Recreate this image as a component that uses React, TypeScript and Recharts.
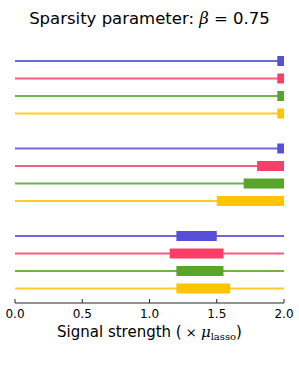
import React from 'react';
import { ComposedChart, Bar, XAxis, YAxis, Cell, Label } from 'recharts';

// one colour per method, repeated in every group
const colors = ['#574fd6', '#f93e6a', '#58a52c', '#ffc400'];

// interval of the thick segment, per group (rows top to bottom)
const groupStarts = [
  [1.95, 1.95, 1.95, 1.95],
  [1.95, 1.8, 1.7, 1.5],
  [1.2, 1.15, 1.2, 1.2],
];
const groupEnds = [
  [2.0, 2.0, 2.0, 2.0],
  [2.0, 2.0, 2.0, 2.0],
  [1.5, 1.55, 1.55, 1.6],
];

const xTicks = [0, 0.5, 1.0, 1.5, 2.0];
const xDomain: [number, number] = [0, 2];

interface Row {
  row: string;
  full: [number, number] | null;
  range: [number, number] | null;
  color: string;
}

const data: Row[] = [];
groupStarts.forEach((starts, g) => {
  starts.forEach((s, i) => {
    data.push({ row: `g${g}-${i}`, full: xDomain, range: [s, groupEnds[g][i]], color: colors[i] });
  });
  if (g < groupStarts.length - 1) {
    data.push({ row: `gap${g}`, full: null, range: null, color: 'none' });
  }
});

const TickMark = (props: any) => {
  const { x, y, payload } = props;
  return (
    <g>
      <line x1={x} x2={x} y1={y - 4} y2={y} stroke="#262626" strokeWidth={1} />
      <text x={x} y={y + 15} textAnchor="middle" fontSize={12} fill="#000" fontFamily="DejaVu Sans">
        {Number(payload.value).toFixed(1)}
      </text>
    </g>
  );
};

const XTitle = (props: any) => {
  const { viewBox } = props;
  const cx = viewBox.x + viewBox.width / 2;
  return (
    <text x={cx} y={viewBox.y + 34} textAnchor="middle" fontSize={15} fill="#000" fontFamily="DejaVu Sans">
      Signal strength (
      <tspan fontFamily="DejaVu Serif" fontSize={13}> × </tspan>
      <tspan fontFamily="DejaVu Serif" fontStyle="italic">μ</tspan>
      <tspan fontFamily="DejaVu Serif" fontSize={10} dy={3}>lasso</tspan>
      <tspan dy={-3}>)</tspan>
    </text>
  );
};

export default function App() {
  return (
    <div style={{ position: 'fixed', left: 0, top: 0, width: 299, height: 374, background: '#fff' }}>
      <div
        style={{
          position: 'absolute',
          top: 8,
          left: 0,
          width: 299,
          textAlign: 'center',
          fontFamily: 'DejaVu Sans',
          fontSize: 16.5,
          color: '#000',
          lineHeight: '22px',
        }}
      >
        Sparsity parameter: <span style={{ fontFamily: 'DejaVu Serif', fontStyle: 'italic' }}>β</span> = 0.75
      </div>
      <ComposedChart
        width={299}
        height={374}
        data={data}
        layout="vertical"
        margin={{ top: 52, right: 15, left: 15, bottom: 41 }}
      >
        <XAxis
          type="number"
          domain={xDomain}
          ticks={xTicks}
          allowDataOverflow
          tickSize={0}
          tickMargin={0}
          tick={<TickMark />}
          axisLine={{ stroke: '#262626', strokeWidth: 1 }}
          height={30}
        >
          <Label content={<XTitle />} />
        </XAxis>
        <YAxis yAxisId="line" type="category" dataKey="row" hide padding={{ top: 0, bottom: 6 }} />
        <YAxis yAxisId="bar" type="category" dataKey="row" hide padding={{ top: 0, bottom: 6 }} />
        <Bar yAxisId="line" dataKey="full" barSize={2} isAnimationActive={false}>
          {data.map((d, i) => (
            <Cell key={`l-${i}`} fill={d.color} fillOpacity={0.85} />
          ))}
        </Bar>
        <Bar yAxisId="bar" dataKey="range" barSize={10} isAnimationActive={false}>
          {data.map((d, i) => (
            <Cell key={`b-${i}`} fill={d.color} />
          ))}
        </Bar>
      </ComposedChart>
    </div>
  );
}
